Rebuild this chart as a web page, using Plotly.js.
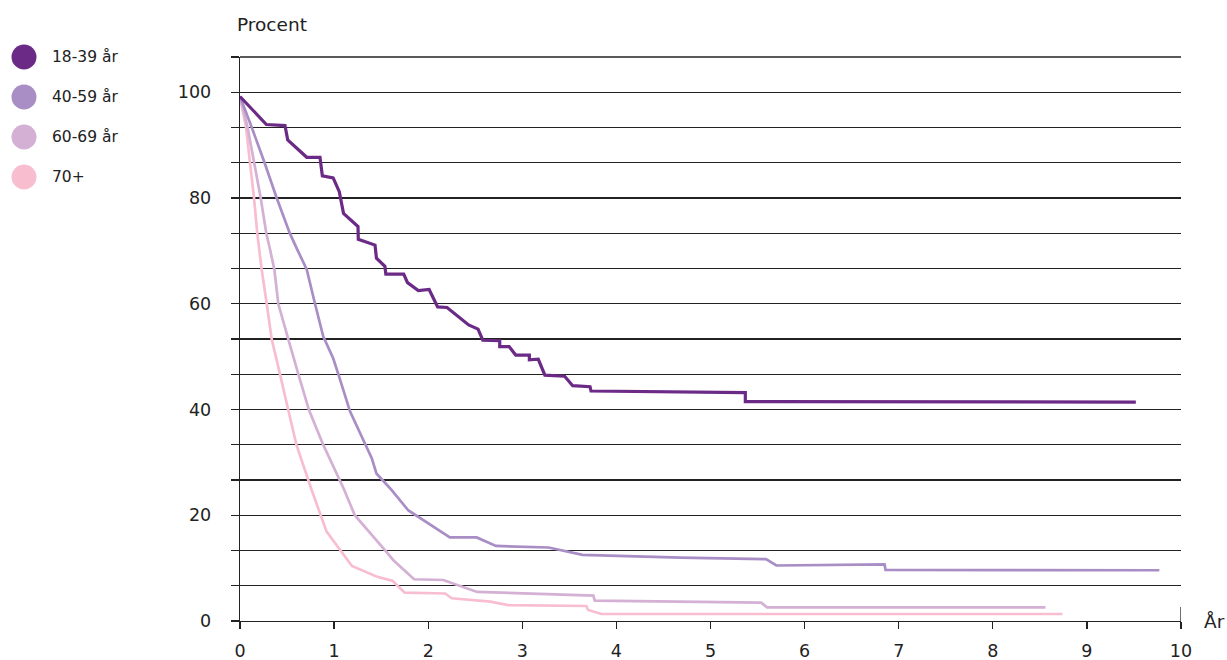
<!DOCTYPE html>
<html>
<head>
<meta charset="utf-8">
<script src="https://cdn.plot.ly/plotly-3.0.1.min.js"></script>
<style>html,body{margin:0;padding:0;background:#fff;}#chart{width:1227px;height:660px;}</style>
</head>
<body>
<div id="chart"></div>
<script>
const seriesNames = ['18-39 år', '40-59 år', '60-69 år', '70+'];
const seriesColors = ['#6C2A87', '#A98DC5', '#D4B0D4', '#F8BED0'];

const x1839 = [0, 0.28, 0.478, 0.507, 0.709, 0.85, 0.875, 0.99, 1.055, 1.10, 1.254, 1.257, 1.435, 1.45, 1.54, 1.55, 1.74, 1.78, 1.895, 2.01, 2.10, 2.20, 2.43, 2.53, 2.58, 2.76, 2.76, 2.86, 2.93, 3.075, 3.075, 3.17, 3.24, 3.45, 3.535, 3.72, 3.73, 5.37, 5.37, 9.52];
const y1839 = [99.2, 93.9, 93.7, 91.0, 87.7, 87.7, 84.2, 83.8, 81.2, 77.1, 74.6, 72.2, 71.1, 68.6, 67.1, 65.6, 65.6, 64.0, 62.5, 62.7, 59.4, 59.3, 56.0, 55.2, 53.1, 53.0, 51.9, 51.9, 50.3, 50.3, 49.4, 49.5, 46.5, 46.3, 44.5, 44.3, 43.5, 43.2, 41.5, 41.4];

const x4059 = [0, 0.124, 0.26, 0.39, 0.53, 0.61, 0.709, 0.797, 0.885, 0.99, 1.045, 1.17, 1.40, 1.45, 1.61, 1.79, 2.23, 2.515, 2.72, 3.28, 3.64, 4.68, 5.59, 5.70, 6.85, 6.86, 9.77];
const y4059 = [99.2, 93.4, 86.7, 80.0, 73.3, 70.2, 66.5, 60.0, 53.8, 49.7, 46.7, 39.6, 30.8, 27.9, 24.8, 20.9, 15.8, 15.8, 14.2, 13.9, 12.5, 12.0, 11.7, 10.5, 10.7, 9.65, 9.6];

const x6069 = [0, 0.08, 0.15, 0.22, 0.28, 0.32, 0.365, 0.407, 0.513, 0.62, 0.733, 0.885, 1.10, 1.22, 1.54, 1.63, 1.85, 2.16, 2.52, 3.755, 3.77, 5.54, 5.60, 8.56];
const y6069 = [99.2, 93.4, 86.7, 80.0, 73.3, 70.2, 66.5, 60.0, 53.3, 46.7, 39.9, 33.3, 25.1, 20.0, 13.4, 11.5, 7.9, 7.75, 5.5, 4.8, 3.85, 3.47, 2.58, 2.58];

const x70 = [0, 0.064, 0.106, 0.149, 0.184, 0.23, 0.284, 0.337, 0.425, 0.513, 0.60, 0.755, 0.92, 1.19, 1.45, 1.62, 1.75, 2.18, 2.25, 2.66, 2.85, 3.68, 3.70, 3.84, 8.74];
const y70 = [99.2, 93.4, 86.7, 80.0, 73.3, 66.5, 60.0, 53.3, 46.7, 39.9, 33.3, 25.1, 16.9, 10.4, 8.4, 7.6, 5.35, 5.2, 4.3, 3.65, 3.0, 2.84, 2.08, 1.32, 1.32];

const yTickVals = [0, 20/3, 40/3, 20, 80/3, 100/3, 40, 140/3, 160/3, 60, 200/3, 220/3, 80, 260/3, 280/3, 100, 320/3];
const yTickText = ['0', '', '', '20', '', '', '40', '', '', '60', '', '', '80', '', '', '100', ''];
const xTickVals = [0, 1, 2, 3, 4, 5, 6, 7, 8, 9, 10];
const yTitle = 'Procent';
const xTitle = 'År';

const xs = [x1839, x4059, x6069, x70];
const ys = [y1839, y4059, y6069, y70];
const widths = [3.2, 2.7, 2.7, 2.7];

const traces = [];
for (let i = xs.length - 1; i >= 0; i--) {
  traces.push({
    x: xs[i], y: ys[i], type: 'scatter', mode: 'lines', name: seriesNames[i],
    line: {color: seriesColors[i], width: widths[i], shape: 'linear', simplify: false},
    hoverinfo: 'skip'
  });
}

const font = "'DejaVu Sans', sans-serif";
const plotW = 1227 - 240 - 46, plotH = 660 - 57 - 39;
const shapes = [];
const annotations = [];
const legendY = [57, 97, 137, 177];
seriesNames.forEach((n, i) => {
  const py = (621 - legendY[i]) / plotH;
  shapes.push({type: 'circle', xref: 'paper', yref: 'paper', xsizemode: 'pixel', ysizemode: 'pixel',
    xanchor: (24 - 240) / plotW, yanchor: py, x0: -12.5, x1: 12.5, y0: -12.5, y1: 12.5,
    fillcolor: seriesColors[i], line: {width: 0}});
  annotations.push({text: n, xref: 'paper', yref: 'paper', x: (50 - 240) / plotW, y: py,
    xanchor: 'left', yanchor: 'middle', showarrow: false, font: {family: font, size: 15.5, color: '#222'}});
});
annotations.push({text: yTitle, xref: 'paper', yref: 'paper', x: (235 - 240) / plotW, y: (621 - 25) / plotH,
  xanchor: 'left', yanchor: 'middle', showarrow: false, font: {family: font, size: 18.5, color: '#222'}});
annotations.push({text: xTitle, xref: 'paper', yref: 'paper', x: (1202 - 240) / plotW, y: 0,
  xanchor: 'left', yanchor: 'middle', showarrow: false, font: {family: font, size: 18.5, color: '#222'}});
shapes.push({type: 'line', xref: 'x', yref: 'paper', x0: 10, x1: 10, y0: 0, y1: 14 / plotH,
  line: {color: '#222', width: 1.3}});
shapes.push({type: 'line', xref: 'paper', yref: 'paper', x0: 0, x1: 1, y0: 1, y1: 1,
  line: {color: '#222', width: 1.3}, layer: 'below'});

const layout = {
  width: 1227, height: 660,
  margin: {l: 240, r: 46, t: 57, b: 39},
  paper_bgcolor: '#fff', plot_bgcolor: '#fff',
  showlegend: false,
  xaxis: {
    range: [0, 10], tickvals: xTickVals, showgrid: false, zeroline: false,
    showline: true, linecolor: '#222', linewidth: 1.3,
    ticks: 'outside', ticklen: 7, tickcolor: '#222', tickwidth: 1.3,
    tickfont: {family: font, size: 17.5, color: '#222'}, ticklabelstandoff: 7
  },
  yaxis: {
    range: [0, 320/3], tickvals: yTickVals, ticktext: yTickText,
    showgrid: true, gridcolor: '#222', gridwidth: 1.2, zeroline: false,
    showline: true, linecolor: '#222', linewidth: 1.3,
    ticks: 'outside', ticklen: 8, tickcolor: '#222', tickwidth: 1.3,
    tickfont: {family: font, size: 17.5, color: '#222'}, ticklabelstandoff: 16
  },
  shapes: shapes,
  annotations: annotations
};

Plotly.newPlot('chart', traces, layout, {displayModeBar: false, staticPlot: true});
</script>
</body>
</html>
